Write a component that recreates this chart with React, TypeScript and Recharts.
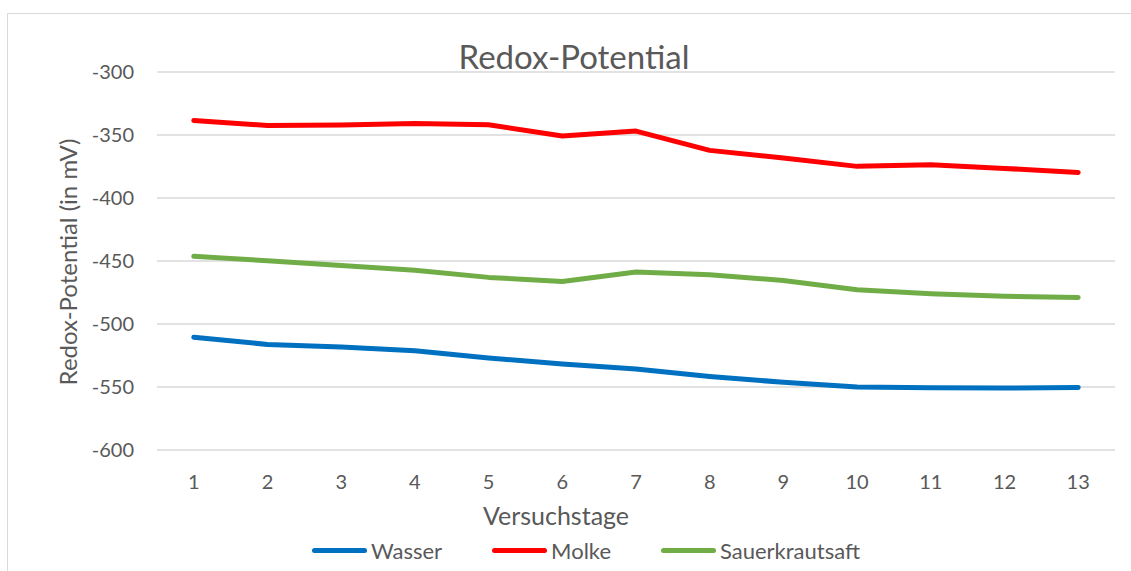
import { CartesianGrid, Line, LineChart, XAxis, YAxis } from 'recharts';

const days = ['1', '2', '3', '4', '5', '6', '7', '8', '9', '10', '11', '12', '13'];
const wasser = [-510.6, -516.2, -518.3, -521.2, -527, -531.8, -535.8, -541.6, -546.3, -550, -550.6, -550.8, -550.3];
const molke = [-338.4, -342.4, -342.1, -340.8, -341.9, -350.8, -346.9, -362.2, -368.3, -374.9, -373.6, -376.5, -379.7];
const sauerkrautsaft = [-446.3, -449.8, -453.5, -457.3, -463, -466.2, -458.8, -461, -465.4, -472.8, -476, -478, -478.9];
const yTicks = [-600, -550, -500, -450, -400, -350, -300];

const series = [
  { key: 'Wasser', color: '#0070c0' },
  { key: 'Molke', color: '#ff0000' },
  { key: 'Sauerkrautsaft', color: '#70ad47' }
];

const data = days.map((day, i) => ({
  day,
  Wasser: wasser[i],
  Molke: molke[i],
  Sauerkrautsaft: sauerkrautsaft[i]
}));

const font = 'Lato, "Open Sans", sans-serif';
const textColor = '#595959';

export default function App() {
  return (
    <div style={{ position: 'fixed', left: 0, top: 0, width: 1131, height: 571, background: '#fff', overflow: 'hidden' }}>
      <div
        style={{
          position: 'absolute',
          left: 7,
          top: 13,
          width: 1140,
          height: 580,
          border: '1.5px solid #d9d9d9',
          boxSizing: 'border-box'
        }}
      />
      <LineChart width={1131} height={571} data={data} margin={{ top: 72, right: 16, bottom: 91, left: 0 }}>
        <CartesianGrid stroke="#d9d9d9" strokeWidth={1.3} vertical={false} />
        <XAxis
          dataKey="day"
          height={30}
          padding={{ left: 36.8, right: 36.8 }}
          axisLine={false}
          tickLine={false}
          tickSize={0}
          tickMargin={25}
          tick={{ fill: textColor, fontSize: 20, fontFamily: font }}
        />
        <YAxis
          width={157}
          domain={[-600, -300]}
          ticks={yTicks}
          axisLine={false}
          tickLine={false}
          tickSize={0}
          tickMargin={23}
          tick={{ fill: textColor, fontSize: 20, fontFamily: font }}
        />
        {series.map((s) => (
          <Line
            key={s.key}
            type="linear"
            dataKey={s.key}
            stroke={s.color}
            strokeWidth={5}
            strokeLinecap="round"
            strokeLinejoin="round"
            dot={false}
            isAnimationActive={false}
          />
        ))}
      </LineChart>
      <div
        style={{
          position: 'absolute',
          left: 0,
          width: 1148,
          top: 36,
          textAlign: 'center',
          fontFamily: font,
          fontSize: 33,
          color: textColor
        }}
      >
        Redox-Potential
      </div>
      <div
        style={{
          position: 'absolute',
          left: 0,
          width: 1112,
          top: 500,
          textAlign: 'center',
          fontFamily: font,
          fontSize: 25,
          color: textColor
        }}
      >
        Versuchstage
      </div>
      <div
        style={{
          position: 'absolute',
          left: 68 - 150,
          top: 262 - 15,
          width: 300,
          textAlign: 'center',
          transform: 'rotate(-90deg)',
          fontFamily: font,
          fontSize: 24,
          color: textColor,
          lineHeight: '30px'
        }}
      >
        Redox-Potential (in mV)
      </div>
      <div
        style={{
          position: 'absolute',
          left: 0,
          width: 1172,
          top: 537,
          display: 'flex',
          justifyContent: 'center',
          gap: 50,
          fontFamily: font,
          fontSize: 22,
          color: textColor
        }}
      >
        {series.map((s) => (
          <div key={s.key} style={{ display: 'flex', alignItems: 'center', gap: 4 }}>
            <span style={{ display: 'inline-block', width: 55, height: 5, borderRadius: 3, background: s.color }} />
            <span>{s.key}</span>
          </div>
        ))}
      </div>
    </div>
  );
}
